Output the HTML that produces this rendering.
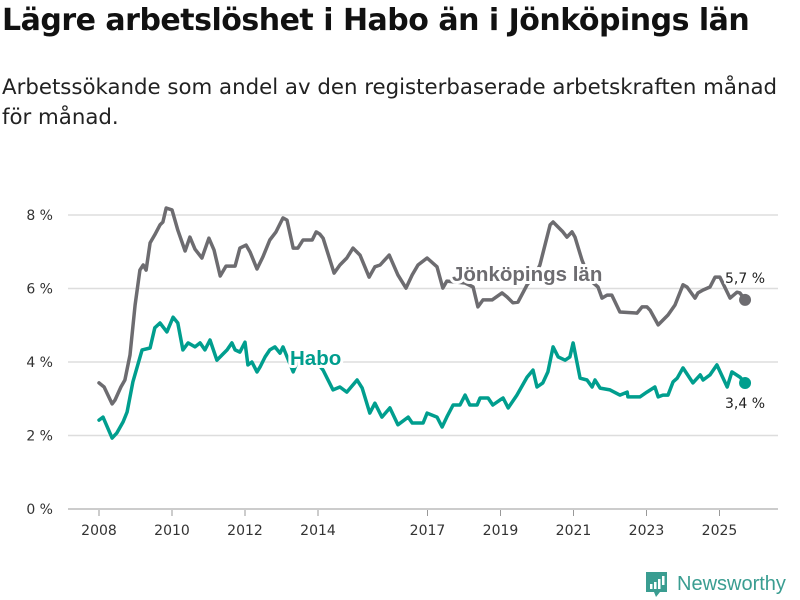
<!DOCTYPE html>
<html><head><meta charset="utf-8"><style>
body{margin:0;background:#fff;font-family:"DejaVu Sans","Liberation Sans",sans-serif;}
#wrap{position:relative;width:800px;height:600px;overflow:hidden;}
h1{position:absolute;left:2px;top:3px;margin:0;font-size:30px;font-weight:bold;color:#111;letter-spacing:-0.5px;white-space:nowrap;}
p.sub{position:absolute;left:2px;top:73px;margin:0;font-size:21.3px;line-height:30px;color:#222;width:796px;white-space:nowrap;}
</style></head><body>
<div id="wrap">
<h1>Lägre arbetslöshet i Habo än i Jönköpings län</h1>
<p class="sub">Arbetssökande som andel av den registerbaserade arbetskraften månad<br>för månad.</p>
<svg id="chart" width="800" height="600" style="position:absolute;left:0;top:0"></svg>
</div>
<script>
const yTicks=[0,2,4,6,8];
const yTickLabels=["0 %","2 %","4 %","6 %","8 %"];
const xTicks=[2008,2010,2012,2014,2017,2019,2021,2023,2025];
const jkpYears=[2008.00,2008.14,2008.36,2008.44,2008.60,2008.71,2008.85,2008.99,2009.12,2009.21,2009.29,2009.40,2009.53,2009.67,2009.75,2009.84,2010.00,2010.16,2010.36,2010.49,2010.63,2010.82,2011.01,2011.15,2011.32,2011.48,2011.73,2011.86,2012.03,2012.14,2012.33,2012.49,2012.68,2012.85,2013.04,2013.15,2013.32,2013.45,2013.59,2013.84,2013.95,2014.05,2014.14,2014.44,2014.60,2014.79,2014.96,2015.15,2015.40,2015.56,2015.70,2015.95,2016.19,2016.41,2016.58,2016.74,2016.99,2017.26,2017.42,2017.53,2018.03,2018.25,2018.38,2018.52,2018.77,2019.04,2019.18,2019.34,2019.48,2019.73,2019.95,2020.08,2020.36,2020.44,2020.71,2020.82,2020.96,2021.04,2021.23,2021.45,2021.67,2021.78,2021.92,2022.05,2022.27,2022.74,2022.88,2023.01,2023.10,2023.32,2023.59,2023.78,2024.00,2024.11,2024.33,2024.41,2024.55,2024.74,2024.88,2025.01,2025.29,2025.48,2025.56,2025.70];
const jkpValues=[3.43,3.32,2.86,2.97,3.32,3.51,4.19,5.55,6.50,6.64,6.50,7.24,7.46,7.73,7.81,8.19,8.14,7.59,7.02,7.40,7.07,6.83,7.37,7.05,6.34,6.61,6.61,7.10,7.18,6.99,6.53,6.86,7.32,7.54,7.92,7.86,7.10,7.10,7.32,7.32,7.54,7.48,7.37,6.42,6.64,6.83,7.10,6.91,6.31,6.59,6.64,6.91,6.37,6.01,6.37,6.64,6.83,6.59,6.01,6.20,6.15,6.04,5.50,5.69,5.69,5.88,5.77,5.61,5.63,6.10,6.37,6.64,7.73,7.81,7.54,7.40,7.54,7.40,6.78,6.23,6.04,5.74,5.82,5.82,5.36,5.33,5.50,5.50,5.41,5.01,5.28,5.55,6.10,6.04,5.74,5.88,5.96,6.04,6.31,6.31,5.74,5.90,5.88,5.69];
const haboYears=[2008.00,2008.11,2008.36,2008.49,2008.66,2008.77,2008.93,2009.18,2009.40,2009.53,2009.67,2009.86,2010.03,2010.16,2010.30,2010.44,2010.63,2010.77,2010.90,2011.04,2011.23,2011.37,2011.51,2011.64,2011.73,2011.86,2012.00,2012.08,2012.19,2012.33,2012.41,2012.55,2012.68,2012.82,2012.96,2013.04,2013.32,2013.51,2013.92,2014.14,2014.41,2014.60,2014.79,2015.07,2015.21,2015.42,2015.56,2015.75,2015.97,2016.19,2016.47,2016.58,2016.88,2016.99,2017.26,2017.40,2017.53,2017.70,2017.89,2018.03,2018.16,2018.36,2018.44,2018.66,2018.79,2018.99,2019.07,2019.21,2019.45,2019.73,2019.89,2020.00,2020.16,2020.30,2020.44,2020.58,2020.77,2020.90,2020.99,2021.18,2021.37,2021.51,2021.59,2021.73,2022.00,2022.27,2022.47,2022.49,2022.82,2023.01,2023.23,2023.32,2023.45,2023.59,2023.73,2023.84,2024.00,2024.27,2024.47,2024.55,2024.74,2024.93,2025.21,2025.34,2025.56,2025.70];
const haboValues=[2.42,2.50,1.93,2.07,2.37,2.64,3.46,4.33,4.38,4.93,5.06,4.82,5.22,5.06,4.33,4.52,4.41,4.52,4.33,4.60,4.05,4.19,4.33,4.52,4.33,4.27,4.54,3.92,4.00,3.73,3.86,4.14,4.33,4.41,4.24,4.41,3.73,4.19,4.05,3.78,3.24,3.32,3.18,3.51,3.29,2.61,2.88,2.50,2.75,2.29,2.50,2.34,2.34,2.61,2.50,2.23,2.50,2.83,2.83,3.10,2.83,2.83,3.02,3.02,2.83,2.97,3.02,2.75,3.10,3.59,3.78,3.32,3.43,3.73,4.41,4.14,4.05,4.14,4.52,3.56,3.51,3.32,3.51,3.29,3.24,3.10,3.18,3.05,3.05,3.18,3.32,3.05,3.10,3.10,3.46,3.56,3.84,3.43,3.65,3.51,3.65,3.92,3.32,3.73,3.59,3.43];
const NS="http://www.w3.org/2000/svg";
const svg=document.getElementById('chart');
const x=yr=>99+(yr-2008)*36.5;
const y=v=>509-v*36.75;
function mk(t,a,p){const e=document.createElementNS(NS,t);for(const k in a)e.setAttribute(k,a[k]);(p||svg).appendChild(e);return e;}
yTicks.forEach((t,i)=>{
 const g=mk('line',{x1:68,x2:778,y1:y(t),y2:y(t),stroke:t===0?'#bbb':'#ddd','stroke-width':1.5});
 
 
 const l=mk('text',{x:53,y:y(t)+5,'text-anchor':'end','font-size':14,fill:'#333'});
 l.textContent=yTickLabels[i];
 
 
});
xTicks.forEach(t=>{
 const tk=mk('line',{x1:x(t),x2:x(t),y1:510,y2:516,stroke:'#999','stroke-width':1});
 
 
 const l=mk('text',{x:x(t),y:535,'text-anchor':'middle','font-size':14,fill:'#333'});
 l.textContent=t;
 
 
});
function line(xs,vs,col,name){
 const d=xs.map((t,i)=>(i?'L':'M')+x(t).toFixed(1)+','+y(vs[i]).toFixed(1)).join('');
 const p=mk('path',{d:d,fill:'none',stroke:col,'stroke-width':3.5,'stroke-linejoin':'round','stroke-linecap':'round'});
 
 
 const n=xs.length-1;
 const c=mk('circle',{cx:x(xs[n]),cy:y(vs[n]),r:6,fill:col});
 
 
}
line(jkpYears,jkpValues,'#6d6c70','jonkoping-line');
line(haboYears,haboValues,'#009e8e','habo-line');
function lab(txt,xx,yy,col,sz,bold,anchor,name,fam){
 const t=mk('text',{x:xx,y:yy,'font-size':sz,'font-weight':bold?'bold':'normal',fill:col,stroke:'#fff','stroke-width':bold?6:4,'paint-order':'stroke','stroke-linejoin':'round','text-anchor':anchor||'start','font-family':fam||'"DejaVu Sans",sans-serif'});
 t.textContent=txt;
 
 
}
lab('Jönköpings län',452,281,'#6d6c70',20.5,true,'start','jonkoping-label','"Liberation Sans",sans-serif');
lab('Habo',290,365,'#009e8e',20.5,true,'start','habo-label','"Liberation Sans",sans-serif');
lab('5,7 %',745,283,'#222',14,false,'middle','jonkoping-end-value');
lab('3,4 %',745,408,'#222',14,false,'middle','habo-end-value');
const lg=mk('g',{});


mk('path',{d:'M646,572h21v20h-7l-4,5l-2,-5h-8z',fill:'#3a9d91'},lg);
mk('rect',{x:650,y:584,width:2.5,height:5,fill:'#fff'},lg);
mk('rect',{x:654,y:582,width:2.5,height:7,fill:'#fff'},lg);
mk('rect',{x:658,y:579,width:2.5,height:10,fill:'#fff'},lg);
mk('rect',{x:662,y:576,width:2.5,height:9,fill:'#fff'},lg);
const lt=mk('text',{x:677,y:590,'font-size':20,fill:'#3a9d91','font-family':'"Liberation Sans",sans-serif'},lg);
lt.textContent='Newsworthy';


</script>
</body></html>
